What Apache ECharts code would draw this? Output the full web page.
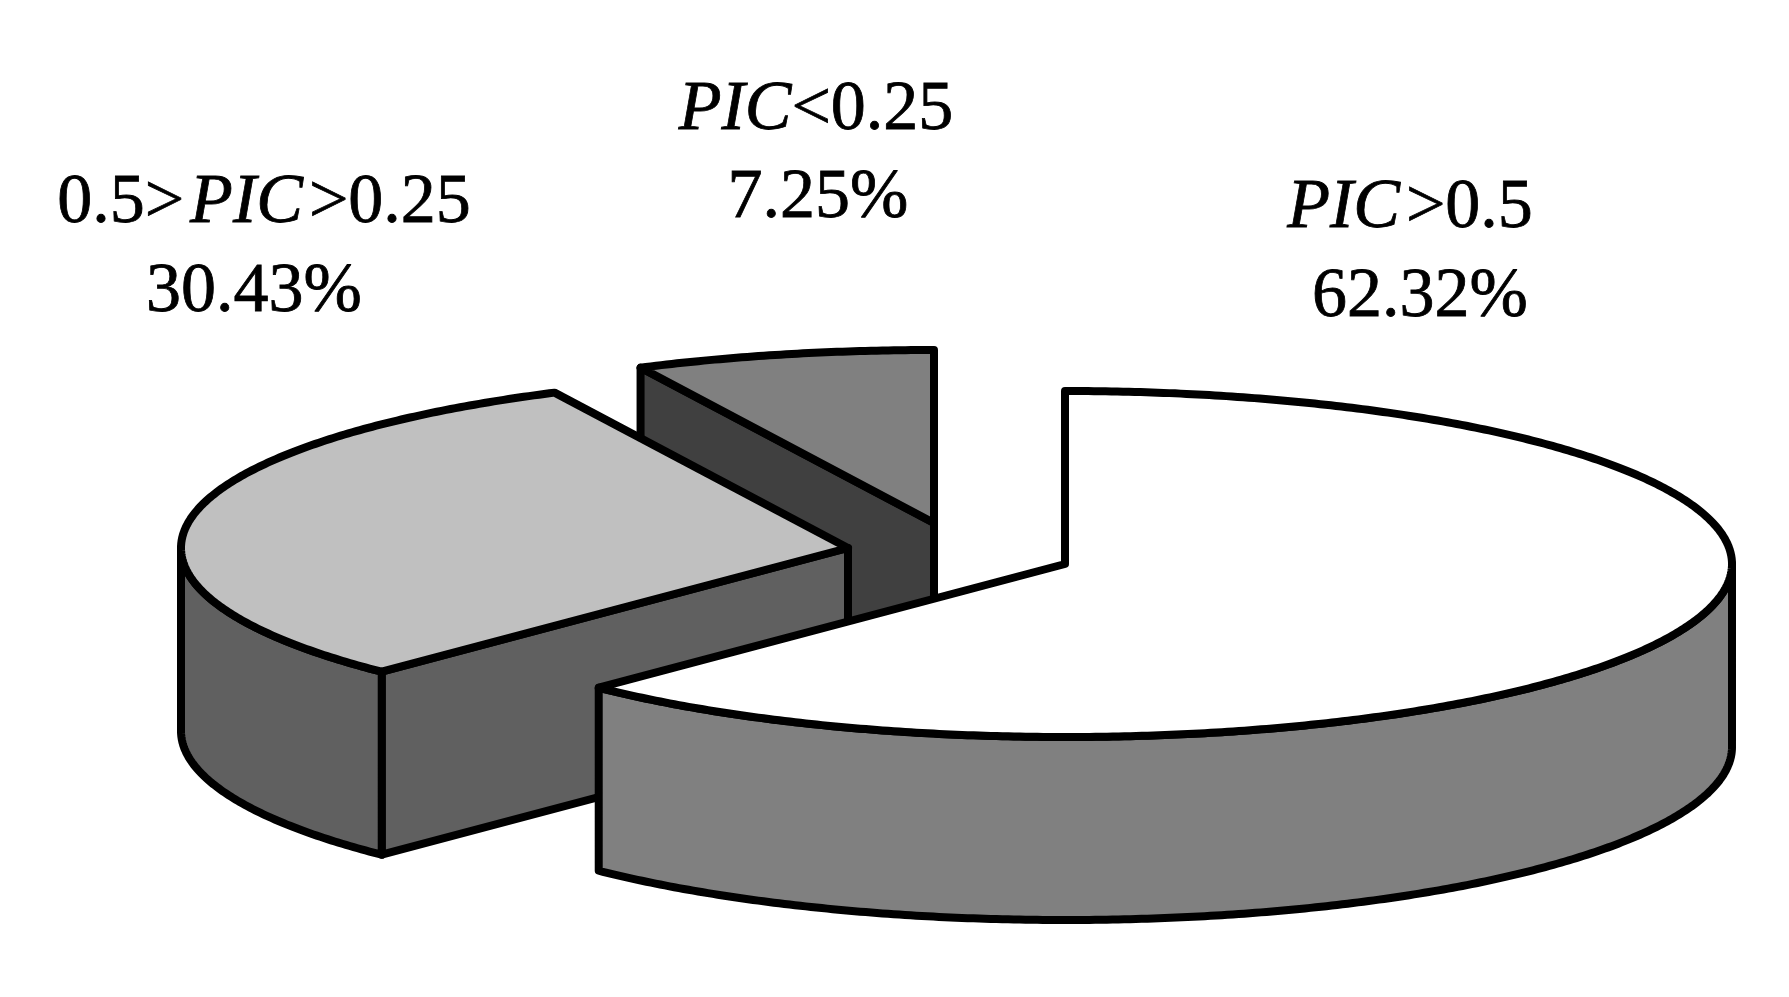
<!DOCTYPE html>
<html>
<head>
<meta charset="utf-8">
<script src="https://cdn.jsdelivr.net/npm/echarts@6/dist/echarts.min.js"></script>
<style>html,body{margin:0;padding:0;background:#fff}#main{width:1789px;height:997px}</style>
</head>
<body>
<div id="main"></div>
<script>
const categories = ['PIC>0.5', '0.5>PIC>0.25', 'PIC<0.25'];
const values = [62.32, 30.43, 7.25];

const topColors = ['#ffffff', '#c0c0c0', '#808080'];
const wallColors = ['#808080', '#606060', '#404040'];
const tips = [[1065, 564], [848, 548], [934, 523]];
const labelCenters = [[[1410, 228], [1420, 317]], [[264, 223], [254, 312]], [[816, 130], [818, 218]]];
const RX = 667, RY = 173, DEPTH = 183, LW = 8, FONT = 70, BASE = 19;

const total = values.reduce((a, b) => a + b, 0);
const toAngle = v => v / total * 360;
function startOf(i) { let s = 0; for (let k = 0; k < i; k++) s += toAngle(values[k]); return s; }
function rim(tip, deg, dy) {
  const r = deg * Math.PI / 180;
  return [tip[0] + RX * Math.sin(r), tip[1] - RY * Math.cos(r) + (dy || 0)];
}
function arc(tip, a, b, dy) {
  const pts = [], n = Math.max(2, Math.ceil(Math.abs(b - a) * 2));
  for (let k = 0; k <= n; k++) pts.push(rim(tip, a + (b - a) * k / n, dy));
  return pts;
}
// Roman text with an italic PIC; a thin gap sits on the ">" side of PIC, as in the reference.
function richLabel(s) {
  const parts = s.split('PIC');
  const gapBefore = parts[0] ? '{s| }' : '';
  const gapAfter = parts[1][0] === '>' ? '{s| }' : '';
  return (parts[0] ? '{r|' + parts[0] + '}' : '') + gapBefore + '{i|PIC}' + gapAfter + '{r|' + parts[1] + '}';
}
const stroke = { stroke: '#000', lineWidth: LW, lineJoin: 'round', lineCap: 'round' };
const poly = (points, fill, z2) => ({ type: 'polygon', z2, shape: { points }, style: Object.assign({ fill }, stroke) });

function renderItem(params) {
  const i = params.dataIndex, tip = tips[i];
  const a = startOf(i), b = a + toAngle(values[i]);
  const z = (values.length - i) * 10;
  const children = [];
  // the slice's leading radial edge faces the viewer for the two left-hand slices
  if (i > 0) {
    const p = rim(tip, a);
    children.push(poly([tip, p, [p[0], p[1] + DEPTH], [tip[0], tip[1] + DEPTH]], wallColors[i], z));
  }
  // visible outer wall: the lower half of the ellipse, between 90 and 270 degrees
  const wa = Math.max(a, 90), wb = Math.min(b, 270);
  if (wb > wa) {
    children.push(poly(arc(tip, wa, wb, 0).concat(arc(tip, wb, wa, DEPTH)), wallColors[i], z + 1));
  }
  children.push(poly([tip].concat(arc(tip, a, b, 0)), topColors[i], z + 2));
  const lines = [richLabel(categories[i]), '{r|' + values[i].toFixed(2) + '%}'];
  lines.forEach((t, k) => {
    children.push({
      type: 'text', z2: 100,
      style: {
        text: t, x: labelCenters[i][k][0], y: labelCenters[i][k][1] - BASE,
        align: 'center', verticalAlign: 'middle',
        rich: {
          r: { fontFamily: 'Liberation Serif', fontSize: FONT, fill: '#000', stroke: '#000', lineWidth: 0.8 },
          i: { fontFamily: 'Liberation Serif', fontSize: FONT, fontStyle: 'italic', fill: '#000', stroke: '#000', lineWidth: 0.8 },
          s: { fontFamily: 'Liberation Serif', fontSize: 24, fill: '#000' }
        }
      }
    });
  });
  return { type: 'group', children };
}

const chart = echarts.init(document.getElementById('main'), null, { renderer: 'canvas' });
chart.setOption({
  backgroundColor: '#ffffff',
  animation: false,
  series: [{
    type: 'custom',
    coordinateSystem: 'none',
    silent: true,
    clip: false,
    renderItem,
    data: values.map((v, i) => ({ name: categories[i], value: [i, v] }))
  }]
});
</script>
</body>
</html>
